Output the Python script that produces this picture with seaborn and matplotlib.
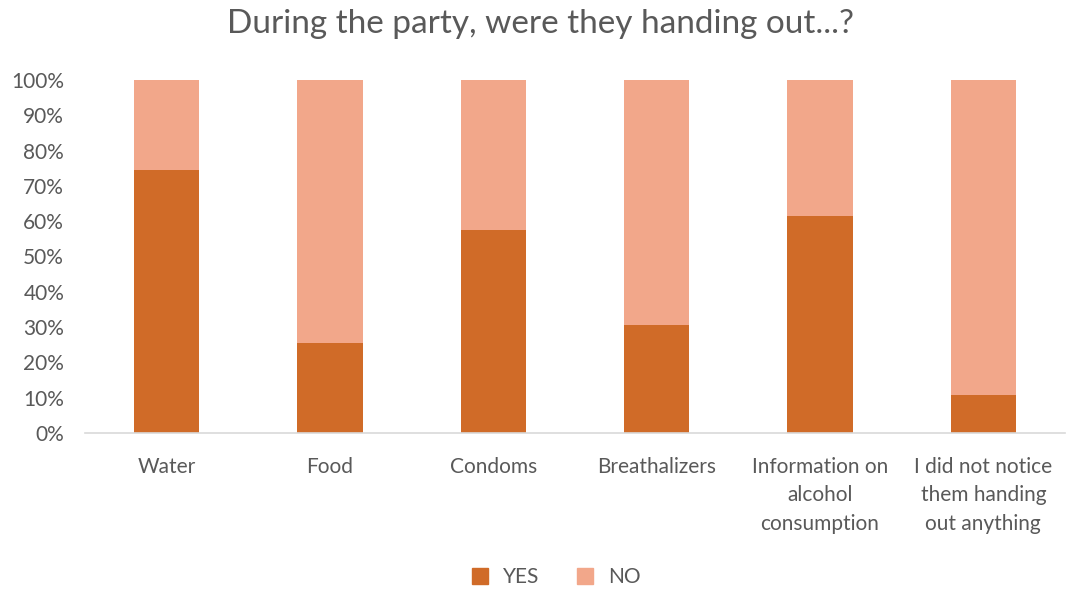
import matplotlib
matplotlib.use("Agg")
import matplotlib.pyplot as plt
from matplotlib.ticker import PercentFormatter
from matplotlib.lines import Line2D
import seaborn as sns
import pandas as pd

categories = [
    "Water",
    "Food",
    "Condoms",
    "Breathalizers",
    "Information on\nalcohol\nconsumption",
    "I did not notice\nthem handing\nout anything",
]
yes_pct = [74.6, 25.4, 57.6, 30.6, 61.6, 10.9]
no_pct = [100 - v for v in yes_pct]
series_names = ["YES", "NO"]

yes_color = "#D06B28"
no_color = "#F2A78A"
text_color = "#595959"

sns.set_theme(style="white")
plt.rcParams["font.family"] = ["Lato", "DejaVu Sans"]

df = pd.DataFrame({"category": categories, "YES": yes_pct, "NO": no_pct})
df["total"] = df["YES"] + df["NO"]

fig = plt.figure(figsize=(10.67, 5.9), dpi=100)
ax = fig.add_axes([85 / 1067, 1 - 433 / 590, (1065 - 85) / 1067, (433 - 80) / 590])

# stacked: full column in the NO colour, YES drawn over its lower part
sns.barplot(data=df, x="category", y="total", color=no_color, width=0.4,
            saturation=1, linewidth=0, ax=ax)
sns.barplot(data=df, x="category", y="YES", color=yes_color, width=0.4,
            saturation=1, linewidth=0, ax=ax)

ax.set_ylim(0, 100)
ax.set_xlim(-0.5, len(categories) - 0.5)
ax.set_yticks(range(0, 101, 10))
ax.yaxis.set_major_formatter(PercentFormatter(decimals=0))
ax.set_xlabel("")
ax.set_ylabel("")
for side in ["top", "right", "left"]:
    ax.spines[side].set_visible(False)
ax.spines["bottom"].set_color("#D9D9D9")
ax.spines["bottom"].set_linewidth(1.2)
ax.tick_params(axis="both", length=0, labelsize=15, colors=text_color)
ax.tick_params(axis="x", pad=17)
ax.tick_params(axis="y", pad=15)
for lbl in ax.get_xticklabels():
    lbl.set_linespacing(1.55)
    lbl.set_verticalalignment("top")

fig.suptitle("During the party, were they handing out...?", x=0.507, y=0.985,
             fontsize=24, color=text_color)

handles = [
    Line2D([], [], marker="s", linestyle="none", markersize=11,
           markerfacecolor=c, markeredgecolor=c)
    for c in (yes_color, no_color)
]
fig.legend(handles, series_names, loc="center", bbox_to_anchor=(0.515, 0.022),
           ncol=2, frameon=False, fontsize=15, handletextpad=0.1,
           columnspacing=1.2, labelcolor=text_color)

fig.savefig("out.png", dpi=100)
